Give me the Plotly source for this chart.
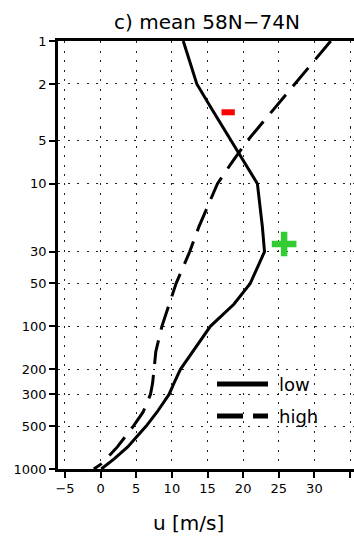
import plotly.graph_objects as go

# Pressure levels (hPa) and zonal-mean zonal wind u (m/s), 58N-74N
levels = [1, 2, 3, 5, 7, 10, 20, 30, 50, 70, 100, 150, 200, 250, 300,
          400, 500, 600, 700, 850, 925, 1000]
u_low = [11.6, 13.5, 15.6, 18.3, 20.1, 22.0, 22.7, 23.0, 21.0, 18.7, 15.4,
         12.9, 11.2, 10.3, 9.6, 7.9, 6.4, 5.0, 3.8, 1.9, 0.9, 0.1]
u_high = [32.3, 27.3, 24.3, 20.6, 18.5, 16.4, 13.8, 12.5, 10.6, 9.6, 8.6,
          7.75, 7.45, 7.3, 7.0, 5.95, 4.6, 3.4, 2.35, 0.8, 0.05, -0.95]

# Significance marks (u, p)
minus_u = [17.9]
minus_p = [3.16]
plus_u = [25.75]
plus_p = [26.5]

x_ticks = [-5, 0, 5, 10, 15, 20, 25, 30, 35]
p_ticks = [1, 2, 5, 10, 30, 50, 100, 200, 300, 500, 1000]
p_labels = [str(p) for p in p_ticks]

legend_names = ["low", "high"]

W, H = 354, 537
L, R, T, B = 58, 0, 41, 68
FONT = "DejaVu Sans"


def px_x(px):
    return (px - L) / (W - L - R)


def px_y(py):
    return (H - B - py) / (H - B - T)


fig = go.Figure()
fig.add_trace(go.Scatter(x=u_low, y=levels, mode="lines", name=legend_names[0],
                         line=dict(color="black", width=3), showlegend=False))
fig.add_trace(go.Scatter(x=u_high, y=levels, mode="lines", name=legend_names[1],
                         line=dict(color="black", width=3, dash="24px,11px"),
                         showlegend=False))
fig.add_trace(go.Scatter(x=minus_u, y=minus_p, mode="markers", showlegend=False,
                         marker=dict(symbol="line-ew", size=9.5,
                                     line=dict(color="#ff0000", width=6))))
fig.add_trace(go.Scatter(x=plus_u, y=plus_p, mode="markers", showlegend=False,
                         marker=dict(symbol="cross-thin", size=17.6,
                                     line=dict(color="#33cc33", width=6.5))))

axis_common = dict(
    ticks="outside", ticklen=6, tickwidth=1.5, tickcolor="black",
    showline=True, linewidth=2.5, linecolor="black",
    showgrid=True, gridcolor="#222", gridwidth=1.3, griddash="2px,7.5px",
    zeroline=False,
    tickfont=dict(family=FONT, size=13, color="black"),
)

fig.update_xaxes(range=[-5.98, 35.56], tickvals=x_ticks, mirror=True,
                 **axis_common)
fig.update_yaxes(type="log", range=[3, 0], tickvals=p_ticks, ticktext=p_labels,
                 mirror=False, **axis_common)

# Legend drawn as line samples with labels
shapes = [
    dict(type="line", xref="paper", yref="paper", x0=px_x(217), x1=px_x(268),
         y0=px_y(384), y1=px_y(384), line=dict(color="black", width=5)),
    dict(type="line", xref="paper", yref="paper", x0=px_x(217), x1=px_x(268),
         y0=px_y(416), y1=px_y(416),
         line=dict(color="black", width=5, dash="26px,10px")),
]
annotations = [
    dict(text=legend_names[0], xref="paper", yref="paper", x=px_x(277),
         y=px_y(384), xanchor="left", yanchor="middle", showarrow=False,
         font=dict(family=FONT, size=18, color="black")),
    dict(text=legend_names[1], xref="paper", yref="paper", x=px_x(277),
         y=px_y(416), xanchor="left", yanchor="middle", showarrow=False,
         font=dict(family=FONT, size=18, color="black")),
    dict(text="u [m/s]", xref="paper", yref="paper", x=px_x(188.5),
         y=px_y(523), xanchor="center", yanchor="middle", showarrow=False,
         font=dict(family=FONT, size=20, color="black")),
]

fig.update_layout(
    width=W, height=H,
    margin=dict(l=L, r=R, t=T, b=B),
    paper_bgcolor="white", plot_bgcolor="white",
    title=dict(text="c) mean 58N\u221274N", x=px_x(207), xref="paper",
               xanchor="center", y=1 - 22 / H, yref="container",
               yanchor="middle",
               font=dict(family=FONT, size=20, color="black")),
    shapes=shapes, annotations=annotations,
    showlegend=False,
)

fig.write_html("out.html")
